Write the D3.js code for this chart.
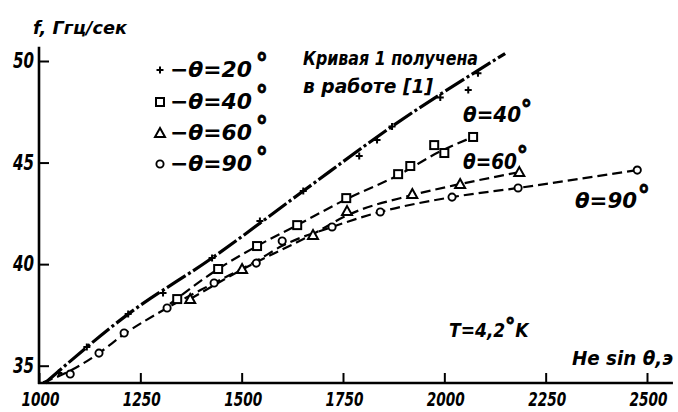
<!DOCTYPE html>
<html><head><meta charset="utf-8">
<script src="https://cdn.jsdelivr.net/npm/d3@7"></script>
<style>
body{margin:0;background:#fff;}
svg{display:block;}
text{font-family:"Liberation Sans Narrow","DejaVu Sans Condensed","Liberation Sans",sans-serif;font-weight:bold;font-style:italic;fill:#000;}
</style></head><body>
<svg id="c" width="678" height="412"></svg>
<script>
// ---- data ----
const xTicks = [1000, 1250, 1500, 1750, 2000, 2250, 2500];
const yTicks = [35, 40, 45, 50];
// measured points
const plus20 = [[1049,34.64],[1118,35.92],[1220,37.54],[1306,38.58],[1427,40.30],[1545,42.12],[1652,43.60],[1790,45.32],[1834,46.11],[1871,46.78],[1990,48.20],[2059,48.57],[2083,49.40]];
const squares40 = [[1341,38.28],[1442,39.76],[1538,40.89],[1637,41.92],[1758,43.25],[1886,44.43],[1916,44.83],[1975,45.86],[2000,45.47],[2071,46.26]];
const triangles60 = [[1373,38.28],[1501,39.76],[1676,41.43],[1760,42.61],[1921,43.45],[2039,43.94],[2185,44.53]];
const circles90 = [[1077,34.59],[1148,35.62],[1210,36.61],[1316,37.84],[1432,39.07],[1536,40.05],[1600,41.14],[1723,41.83],[1842,42.57],[2019,43.30],[2182,43.75],[2476,44.63]];
// drawn curves
const curve1 = [[1015,34.15],[1220,37.54],[1427,40.30],[1652,43.60],[1871,46.78],[2150,50.37]];
const curve40 = [[1323,38.04],[1442,39.76],[1538,40.89],[1637,41.92],[1758,43.20],[1886,44.38],[1990,45.55],[2071,46.26]];
const curve60 = [[1373,38.28],[1499,39.71],[1676,41.48],[1760,42.40],[1921,43.40],[2039,43.94],[2185,44.53]];
const curve90 = [[1010,34.18],[1077,34.75],[1148,35.62],[1210,36.55],[1316,37.84],[1432,39.07],[1536,40.15],[1600,40.90],[1723,41.83],[1842,42.57],[2019,43.30],[2182,43.75],[2476,44.63]];
const legendLabels = ["−θ=20", "−θ=40", "−θ=60", "−θ=90"];
const legendSymbols = ["plus", "square", "triangle", "circle"];

// ---- scales ----
const svg = d3.select("#c");
const x = d3.scaleLinear().domain([1000, 2500]).range([39, 647]);
const y = d3.scaleLinear().domain([35, 50]).range([365.7, 61]);
const xMax = 2564, yMax = 50.7, yMin = y.invert(383), xMin = 1000;

// axes lines
svg.append("line").attr("x1", x(xMin)).attr("x2", x(xMin)).attr("y1", y(yMax)).attr("y2", y(yMin) + 1)
  .attr("stroke", "#000").attr("stroke-width", 2.6);
svg.append("line").attr("x1", x(xMin) - 1).attr("x2", x(xMax)).attr("y1", y(yMin)).attr("y2", y(yMin))
  .attr("stroke", "#000").attr("stroke-width", 2.6);

const xAxis = d3.axisBottom(x).tickValues(xTicks).tickSizeInner(-10).tickSizeOuter(0).tickPadding(10).tickFormat(d3.format("d"));
const gx = svg.append("g").attr("transform", `translate(0,${y(yMin)})`).call(xAxis);
gx.select(".domain").remove();
gx.selectAll("line").attr("stroke", "#000").attr("stroke-width", 2);
gx.selectAll("text").attr("font-size", 19).attr("font-family", null).attr("dx", 1)
  .attr("textLength", 38).attr("lengthAdjust", "spacingAndGlyphs");

const yAxis = d3.axisLeft(y).tickValues(yTicks).tickSizeInner(-10).tickSizeOuter(0).tickPadding(5);
const gy = svg.append("g").attr("transform", `translate(${x(xMin)},0)`).call(yAxis);
gy.select(".domain").remove();
gy.selectAll("line").attr("stroke", "#000").attr("stroke-width", 2);
gy.selectAll("text").attr("font-size", 21).attr("font-family", null)
  .attr("textLength", 21).attr("lengthAdjust", "spacingAndGlyphs");

// ---- curves ----
const line = d3.line().x(d => x(d[0])).y(d => y(d[1])).curve(d3.curveMonotoneX);
svg.append("path").attr("d", line(curve1)).attr("fill", "none").attr("stroke", "#000")
  .attr("stroke-width", 3.2).attr("stroke-dasharray", "22,3,3,3");
[curve40, curve60, curve90].forEach(c => {
  svg.append("path").attr("d", line(c)).attr("fill", "none").attr("stroke", "#000")
    .attr("stroke-width", 2.2).attr("stroke-dasharray", "10,5");
});

// ---- markers ----
function drawSymbol(g, type, cx, cy) {
  if (type === "plus") {
    g.append("path").attr("d", `M${cx-3.5},${cy}H${cx+3.5}M${cx},${cy-3.5}V${cy+3.5}`)
      .attr("stroke", "#000").attr("stroke-width", 2);
  } else if (type === "square") {
    g.append("rect").attr("x", cx-4).attr("y", cy-4).attr("width", 8).attr("height", 8)
      .attr("fill", "#fff").attr("stroke", "#000").attr("stroke-width", 2);
  } else if (type === "triangle") {
    g.append("path").attr("d", `M${cx},${cy-5}L${cx+5},${cy+4}L${cx-5},${cy+4}Z`)
      .attr("fill", "#fff").attr("stroke", "#000").attr("stroke-width", 2);
  } else {
    g.append("circle").attr("cx", cx).attr("cy", cy).attr("r", 3.6)
      .attr("fill", "#fff").attr("stroke", "#000").attr("stroke-width", 1.9);
  }
}
const mg = svg.append("g");
plus20.forEach(d => drawSymbol(mg, "plus", x(d[0]), y(d[1])));
squares40.forEach(d => drawSymbol(mg, "square", x(d[0]), y(d[1])));
triangles60.forEach(d => drawSymbol(mg, "triangle", x(d[0]), y(d[1])));
circles90.forEach(d => drawSymbol(mg, "circle", x(d[0]), y(d[1])));

// ---- texts with a raised degree sign ----
// parts: [string, fontSize, dx, dy, textLength, isDegree]
function rich(tx, ty, parts) {
  const t = svg.append("text").attr("x", tx).attr("y", ty);
  parts.forEach(p => {
    const s = t.append("tspan").attr("font-size", p[1]).text(p[0]);
    if (p[2]) s.attr("dx", p[2]);
    if (p[3]) s.attr("dy", p[3]);
    if (p[4]) s.attr("textLength", p[4]).attr("lengthAdjust", "spacingAndGlyphs");
    if (p[5]) s.attr("stroke", "#000").attr("stroke-width", 0.9).attr("font-style", "normal");
  });
  return t;
}

// ---- legend ----
const legY = [70, 102, 133, 164];
const lg = svg.append("g");
legendLabels.forEach((t, i) => {
  drawSymbol(lg, legendSymbols[i], 160, legY[i]);
  rich(170, legY[i] + 7, [[t, 21, 0, 0, 82], ["°", 26, 4, -5, 0, true]]);
});

function txt(s, tx, ty, size, len) {
  const t = svg.append("text").attr("x", tx).attr("y", ty).attr("font-size", size).text(s);
  if (len) t.attr("textLength", len).attr("lengthAdjust", "spacingAndGlyphs");
  return t;
}
txt("f, Ггц/сек", 33, 34, 18, 94);
txt("Кривая 1 получена", 303, 65, 19, 175);
txt("в работе [1]", 303, 93, 19, 130);
rich(463, 122, [["θ=40", 21, 0, 0, 58], ["°", 24, 0, -4, 0, true]]);
rich(463, 169, [["θ=60", 21, 0, 0, 54], ["°", 24, 0, -5, 0, true]]);
rich(575, 208, [["θ=90", 21, 0, 0, 62], ["°", 26, 1, -4, 0, true]]);
rich(449, 337, [["T=4,2", 19], ["°", 22, 0, -4, 0, true], ["K", 19, 0, 4]]);
txt("He sin θ,э", 572, 365, 19, 101);
</script>
</body></html>
